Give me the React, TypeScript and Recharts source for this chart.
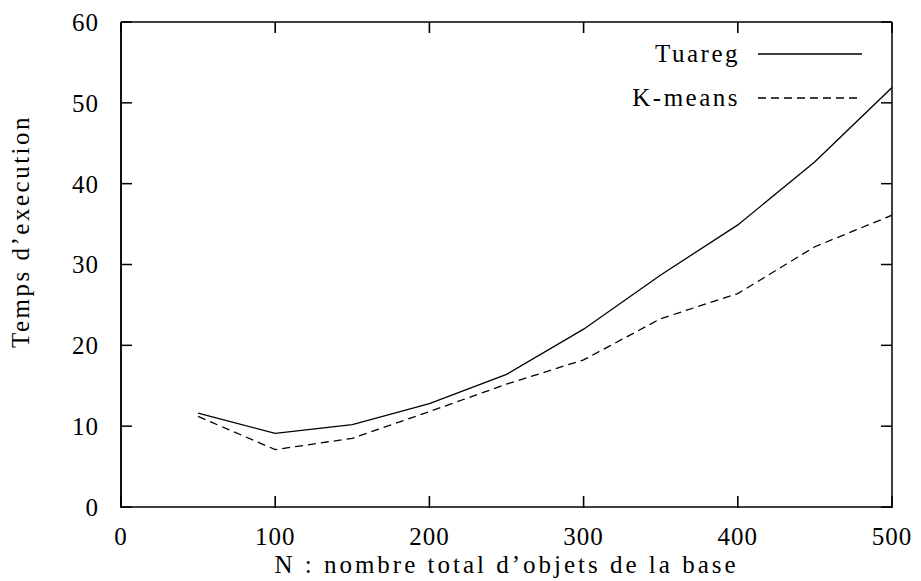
import { LineChart, Line, XAxis, YAxis, Legend, ReferenceLine } from 'recharts';

// N values and execution times
const sizes = [50, 100, 150, 200, 250, 300, 350, 400, 450, 500];
const tuareg = [11.6, 9.1, 10.2, 12.8, 16.4, 22.0, 28.7, 34.9, 42.7, 51.9];
const kmeans = [11.2, 7.1, 8.5, 11.8, 15.2, 18.2, 23.3, 26.4, 32.2, 36.1];
const seriesOrder = ['Tuareg', 'K-means'];

const xTicks = [0, 100, 200, 300, 400, 500];
const yTicks = [0, 10, 20, 30, 40, 50, 60];
const Y_MAX = 60;

const data = sizes.map((n, i) => ({ n, tuareg: tuareg[i], kmeans: kmeans[i] }));

const FONT = '"Liberation Serif", "Times New Roman", serif';
const tickStyle = { fontFamily: FONT, fontSize: 25, fill: '#000', letterSpacing: 1 };
const axisLine = { stroke: '#000', strokeWidth: 1.5 };
const tickLine = { stroke: '#000', strokeWidth: 1.5 };
const TICK_LEN = 11;
const BOTTOM_MARGIN = 20;
const PLOT_H = 485;
// inward tick length expressed in y units, for the top/bottom marks
const tickInY = (TICK_LEN / PLOT_H) * Y_MAX;
const blank = () => ' ';

// bottom tick: inward mark above the axis plus the label below it
function BottomTick({ x, y, payload }: any) {
  const axisY = y - BOTTOM_MARGIN;
  return (
    <g>
      <line x1={x} x2={x} y1={axisY + 1} y2={axisY - TICK_LEN} stroke="#000" strokeWidth={1.6} />
      <text x={x} y={y} dy="0.71em" textAnchor="middle" {...tickStyle}>
        {payload.value}
      </text>
    </g>
  );
}

function SeriesKey({ payload }: { payload?: any[] }) {
  if (!payload) return null;
  const items = [...payload].sort(
    (a, b) => seriesOrder.indexOf(a.value) - seriesOrder.indexOf(b.value)
  );
  return (
    <div>
      {items.map((p) => (
        <div key={p.value} style={{ display: 'flex', alignItems: 'center', height: 44 }}>
          <span
            style={{
              width: 140,
              textAlign: 'right',
              fontFamily: FONT,
              fontSize: 25,
              letterSpacing: 2.5,
              color: '#000',
            }}
          >
            {p.value}
          </span>
          <svg width={104} height={4} style={{ marginLeft: 18 }}>
            <line
              x1={0}
              y1={2}
              x2={104}
              y2={2}
              stroke="#000"
              strokeWidth={1.3}
              strokeDasharray={p.payload?.strokeDasharray}
            />
          </svg>
        </div>
      ))}
    </div>
  );
}

export default function App() {
  return (
    <LineChart
      width={913}
      height={573}
      data={data}
      margin={{ top: 13, right: 29, bottom: 0, left: 0 }}
    >
      <XAxis
        dataKey="n"
        type="number"
        domain={[0, 500]}
        allowDataOverflow
        ticks={xTicks}
        interval={0}
        height={74}
        tickLine={false}
        tickSize={0}
        tickMargin={BOTTOM_MARGIN}
        tick={<BottomTick />}
        axisLine={axisLine}
        label={({ viewBox }: any) => (
          <text
            x={viewBox.x + viewBox.width / 2}
            y={viewBox.y + viewBox.height - 8}
            textAnchor="middle"
            fontFamily={FONT}
            fontSize={25}
            letterSpacing={3}
            style={{ fill: '#000' }}
          >
            N : nombre total d’objets de la base
          </text>
        )}
      />
      <XAxis
        xAxisId="top"
        orientation="top"
        dataKey="n"
        type="number"
        domain={[0, 500]}
        allowDataOverflow
        ticks={xTicks}
        interval={0}
        height={1}
        tickLine={false}
        tickSize={0}
        tickMargin={0}
        tickFormatter={blank}
        axisLine={axisLine}
      />
      <YAxis
        type="number"
        domain={[0, Y_MAX]}
        allowDataOverflow
        ticks={yTicks}
        interval={0}
        width={113}
        tickLine={false}
        tickMargin={16}
        tick={tickStyle}
        axisLine={axisLine}
        label={({ viewBox }: any) => {
          const cx = viewBox.x + 21;
          const cy = viewBox.y + viewBox.height / 2 - 33;
          return (
            <text
              x={cx}
              y={cy}
              transform={`rotate(-90 ${cx} ${cy})`}
              textAnchor="middle"
              fontFamily={FONT}
              fontSize={25}
              letterSpacing={2.5}
              style={{ fill: '#000' }}
            >
              Temps d’execution
            </text>
          );
        }}
      />
      {/* mirrored y axes: inward ticks on the left and right borders */}
      <YAxis
        yAxisId="leftTicks"
        mirror
        type="number"
        domain={[0, Y_MAX]}
        ticks={yTicks}
        interval={0}
        allowDataOverflow
        tickSize={TICK_LEN}
        tickFormatter={blank}
        axisLine={axisLine}
        tickLine={tickLine}
      />
      <YAxis
        yAxisId="right"
        orientation="right"
        mirror
        type="number"
        domain={[0, Y_MAX]}
        ticks={yTicks}
        interval={0}
        allowDataOverflow
        tickSize={TICK_LEN}
        tickFormatter={blank}
        axisLine={axisLine}
        tickLine={tickLine}
      />
      {/* inward ticks on the top border */}
      {xTicks.map((t) => (
        <ReferenceLine
          key={`t${t}`}
          segment={[
            { x: t, y: Y_MAX - tickInY },
            { x: t, y: Y_MAX },
          ]}
          stroke="#000"
          strokeWidth={1.6}
          ifOverflow="visible"
        />
      ))}
      <Legend
        layout="vertical"
        verticalAlign="middle"
        align="center"
        wrapperStyle={{ left: 592, top: 24, width: 262 }}
        content={<SeriesKey />}
      />
      <Line
        name="Tuareg"
        dataKey="tuareg"
        type="linear"
        stroke="#000"
        strokeWidth={1.3}
        dot={false}
        isAnimationActive={false}
      />
      <Line
        name="K-means"
        xAxisId="top"
        dataKey="kmeans"
        type="linear"
        stroke="#000"
        strokeWidth={1.3}
        strokeDasharray="8 5"
        dot={false}
        isAnimationActive={false}
      />
    </LineChart>
  );
}
